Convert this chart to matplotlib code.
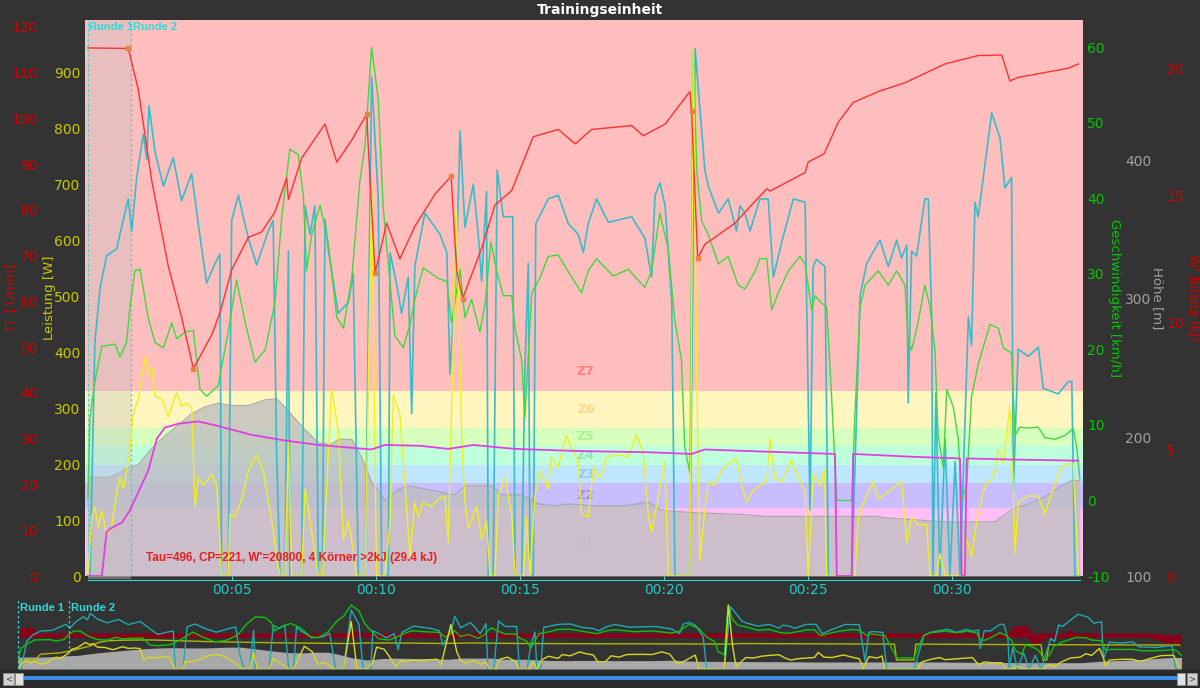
import matplotlib
matplotlib.use("Agg")
import matplotlib.pyplot as plt
from matplotlib.patches import Rectangle
import matplotlib.transforms as mtransforms
from matplotlib.ticker import FuncFormatter

BG = "#333333"

# ---- zones (power, W) ----
zone_names = ["Z1", "Z2", "Z3", "Z4", "Z5", "Z6", "Z7"]
zone_edges = [0, 122, 166, 199, 232, 265, 331, 993]
zone_colors = ["#ffbef5", "#c8beff", "#bee6ff", "#beffdc", "#d7ffbe", "#fff5be", "#ffbebe"]
zone_text_colors = ["#e8b0e0", "#a090f0", "#90c8f0", "#90e8c0", "#a8f090", "#ffd890", "#ff8080"]
zone_label_y = [61, 144, 182, 215, 249, 298, 365]

# ---- laps (minutes) ----
lap_names = ["Runde 1", "Runde 2"]
lap_starts = [0.0, 1.5]

# ---- W' balance (kJ) ----
wbal_t = [0.0, 1.41, 1.76, 2.22, 2.80, 3.26, 3.67, 4.31, 4.59, 5.00, 5.58, 6.04, 6.50, 6.91,
          6.97, 7.43, 8.24, 8.65, 9.17, 9.69, 9.74, 9.98, 10.38, 10.84, 11.36, 12.06, 12.62,
          12.81, 13.02, 13.68, 14.14, 14.72, 15.47, 16.34, 16.93, 17.50, 18.89, 19.29, 20.05,
          20.91, 20.97, 21.18, 21.43, 22.48, 22.82, 23.58, 23.69, 24.91, 25.02, 25.57, 26.06,
          26.58, 27.45, 28.38, 29.77, 30.92, 31.74, 32.02, 32.31, 34.05, 34.40]
wbal_kj = [20.8, 20.78, 19.15, 15.6, 12.2, 10.2, 8.17, 9.5, 10.36, 12.06, 13.34, 13.55, 14.33, 15.68,
           14.83, 16.46, 17.8, 16.3, 17.17, 18.19, 17.0, 11.92, 13.9, 12.49, 13.77, 15.04, 15.75,
           12.06, 10.93, 12.91, 14.61, 15.18, 17.3, 17.59, 17.02, 17.59, 17.74, 17.34, 17.8,
           19.08, 18.3, 12.52, 13.06, 13.9, 14.33, 15.25, 15.16, 15.89, 16.31, 16.63, 17.87,
           18.65, 19.08, 19.43, 20.17, 20.5, 20.52, 19.5, 19.64, 20.0, 20.17]
match_t = [1.41, 3.67, 9.69, 9.98, 12.62, 13.02, 20.97, 21.18]
match_kj = [20.78, 8.17, 18.19, 11.92, 15.75, 10.93, 18.3, 12.52]

# ---- cadence (1/min) ----
cad_t = [0.0, 0.08, 0.25, 0.43, 0.66, 1.01, 1.12, 1.41, 1.53, 1.70, 1.93, 2.05, 2.13, 2.34, 2.63,
         2.97, 3.26, 3.61, 3.90, 4.13, 4.42, 4.59, 4.65, 4.88, 5.00, 5.23, 5.58, 5.87, 6.27, 6.44,
         6.56, 6.68, 6.85, 6.97, 7.02, 7.43, 7.55, 7.72, 7.89, 8.01, 8.15, 8.24, 8.35, 8.70, 9.05,
         9.22, 9.40, 9.63, 9.86, 10.09, 10.21, 10.44, 10.50, 10.73, 10.90, 11.13, 11.25, 11.36,
         11.71, 12.23, 12.47, 12.58, 12.81, 12.93, 13.10, 13.39, 13.56, 13.68, 13.85, 13.91,
         14.08, 14.22, 14.43, 14.76, 14.84, 15.07, 15.18, 15.30, 15.36, 15.47, 15.56, 15.99,
         16.34, 16.69, 17.03, 17.21, 17.38, 17.67, 18.08, 18.89, 19.35, 19.58, 19.70, 19.87,
         20.05, 20.28, 20.39, 20.91, 21.09, 21.43, 21.55, 21.90, 22.24, 22.53, 22.65, 22.82,
         23.00, 23.34, 23.63, 23.81, 24.10, 24.50, 24.91, 25.08, 25.19, 25.31, 25.60, 25.72,
         26.53, 26.82, 27.05, 27.51, 27.80, 28.09, 28.26, 28.44, 28.49, 28.61, 28.78, 29.07,
         29.19, 29.31, 29.35, 29.45, 29.59, 29.77, 29.94, 30.12, 30.29, 30.58, 30.69, 30.81,
         30.92, 31.39, 31.68, 31.85, 32.08, 32.14, 32.31, 32.66, 33.01, 33.18, 33.70, 34.05,
         34.17, 34.28, 34.45]
cad_rpm = [0, 0, 51, 63, 70, 71.5, 74.7, 82.4, 75.4, 87, 96.5, 91, 102.8, 92.6, 85.2,
           91.4, 82, 87.9, 74.2, 64, 68.3, 70.3, 0, 0, 77.7, 83.2, 73.8, 68, 75.4, 77.7,
           27, 0, 0, 71, 0, 0, 80.9, 74.7, 80.9, 0, 0, 78, 71.5, 57.4, 59.8,
           66, 0, 0, 109, 82.4, 0, 0, 70.7, 63.7, 57.4, 65.3, 35.5, 67.7,
           79.3, 74.7, 70.7, 44.1, 68.3, 97.3, 76.2, 85.6, 74.7, 64.4, 84, 0,
           0, 88.7, 78.5, 78.5, 0, 0, 44.9, 68.3, 0, 0, 77, 82.4,
           83.2, 77, 74.7, 70.7, 77, 82.4, 77.3, 78.5, 73.8, 65.3, 83.2, 85.9,
           80.9, 60, 0, 0, 115.3, 88.7, 85.2, 79.3, 82.4, 75.4, 80.9, 79.3,
           75.4, 82.4, 82.4, 65.3, 73, 82.4, 81.7, 14.5, 67.6, 69.2, 67.6, 0,
           0, 61.3, 68.3, 73.4, 67.6, 73.4, 69.5, 72.3, 37.9, 71, 69.9, 82.4,
           82.4, 55.8, 0, 40, 0, 30, 0, 25, 0, 56.6, 50.4, 81.7,
           78.5, 101.2, 95.7, 84.8, 87.1, 18.4, 49.6, 48, 50, 41, 39.8, 42.5,
           42.5, 0, 0]

# ---- speed (km/h) ----
spd_t = [0.01, 0.08, 0.25, 0.49, 0.95, 1.12, 1.35, 1.47, 1.64, 1.82, 2.10, 2.34, 2.63, 2.92, 3.09,
         3.38, 3.67, 3.90, 4.13, 4.53, 4.88, 5.17, 5.46, 5.81, 6.16, 6.50, 6.74, 7.02, 7.31, 7.49,
         7.60, 7.78, 8.07, 8.35, 8.65, 8.88, 9.17, 9.45, 9.63, 9.86, 10.09, 10.26, 10.44, 10.67,
         10.96, 11.19, 11.36, 11.65, 12.17, 12.47, 12.64, 12.93, 13.10, 13.33, 13.62, 13.80,
         14.00, 14.20, 14.43, 14.72, 14.84, 15.07, 15.18, 15.42, 15.70, 15.99, 16.34, 16.75,
         17.15, 17.38, 17.67, 18.25, 18.77, 19.35, 19.58, 19.87, 20.16, 20.39, 20.62, 20.73,
         20.91, 21.02, 21.15, 21.32, 21.55, 21.90, 22.24, 22.59, 22.82, 23.18, 23.34, 23.58,
         23.75, 23.98, 24.33, 24.73, 24.91, 25.14, 25.25, 25.49, 25.66, 25.83, 26.01, 26.53,
         26.64, 26.82, 26.99, 27.45, 27.80, 28.09, 28.38, 28.49, 28.61, 28.84, 29.07, 29.25,
         29.42, 29.53, 29.71, 29.83, 30.06, 30.23, 30.35, 30.52, 30.69, 30.92, 31.33, 31.62,
         31.79, 32.08, 32.20, 32.37, 32.66, 33.01, 33.24, 33.59, 33.93, 34.22, 34.34, 34.45]
spd_kmh = [0.3, 11.0, 15.7, 20.4, 20.7, 19.0, 20.9, 25.6, 30.4, 30.6, 24.2, 20.9, 20.2, 23.5, 21.4,
           22.3, 22.5, 14.7, 13.8, 15.2, 22.3, 29.2, 23.7, 18.3, 19.9, 26.1, 37.5, 46.5, 45.8, 40.3,
           30.4, 35.2, 39.1, 34.2, 24.2, 22.8, 29.4, 42.2, 47.0, 60.0, 53.1, 38.9, 31.3, 21.8,
           20.2, 23.3, 26.6, 30.8, 29.4, 29.0, 23.5, 30.6, 24.2, 26.6, 22.3, 26.1,
           34.2, 30.4, 27.1, 27.1, 22.8, 18.6, 11.0, 27.5, 29.4, 32.3, 32.5, 29.9,
           27.5, 30.4, 32.0, 29.7, 30.6, 28.2, 30.4, 38.0, 33.2, 23.7, 18.6, 7.1,
           3.6, 59.6, 43.7, 37.0, 35.2, 31.3, 32.3, 28.5, 28.0, 30.4, 32.0, 32.0,
           25.2, 27.5, 30.4, 32.3, 31.3, 25.2, 27.1, 26.1, 25.6, 13.8, 0, 0,
           11.4, 25.6, 28.5, 30.4, 28.5, 30.4, 28.5, 20.9, 19.9, 23.7, 28.5, 25.6,
           19.9, 8.6, 4.3, 14.7, 12.3, 8.1, 0, 2.0, 13.8, 18.0, 23.3, 22.8,
           20.2, 19.5, 8.6, 9.7, 9.6, 9.7, 8.3, 8.1, 8.6, 9.5, 7.1, 2.9]

# ---- power (W) ----
pwr_t = [0.01, 0.14, 0.25, 0.37, 0.49, 0.66, 0.83, 1.01, 1.12, 1.24, 1.35, 1.47, 1.58, 1.76, 1.99,
         2.10, 2.22, 2.34, 2.57, 2.80, 3.09, 3.26, 3.44, 3.61, 3.73, 3.84, 4.01, 4.31, 4.48, 4.65,
         4.88, 4.94, 5.11, 5.35, 5.58, 5.87, 6.10, 6.39, 6.56, 6.68, 6.85, 6.97, 7.08, 7.43, 7.55,
         7.78, 8.01, 8.15, 8.47, 8.70, 8.88, 9.05, 9.22, 9.34, 9.63, 9.86, 10.03, 10.32, 10.50,
         10.61, 10.84, 11.02, 11.19, 11.36, 11.48, 11.65, 11.94, 12.17, 12.41, 12.52, 12.81,
         12.99, 13.10, 13.22, 13.51, 13.68, 13.85, 13.97, 14.14, 14.26, 14.49, 14.72, 14.84,
         15.13, 15.24, 15.36, 15.53, 15.70, 15.99, 16.11, 16.34, 16.63, 16.81, 17.03, 17.15,
         17.38, 17.56, 17.79, 18.02, 18.42, 18.77, 19.06, 19.29, 19.47, 19.58, 19.87, 20.05,
         20.16, 20.91, 21.03, 21.15, 21.26, 21.43, 21.55, 21.78, 22.01, 22.24, 22.53, 22.71,
         22.88, 23.06, 23.34, 23.58, 23.69, 23.86, 24.10, 24.44, 24.73, 24.91, 25.02, 25.19,
         25.43, 25.58, 25.66, 26.64, 26.76, 26.99, 27.28, 27.45, 27.80, 28.26, 28.44, 28.61,
         28.84, 29.13, 29.25, 29.48, 29.59, 29.77, 30.35, 30.52, 30.69, 30.87, 31.16, 31.45,
         31.62, 31.79, 32.02, 32.14, 32.20, 32.31, 32.66, 33.01, 33.24, 33.53, 33.82, 33.99,
         34.22, 34.40]
pwr_w = [0, 105, 124, 86, 117, 73, 86, 150, 175, 156, 188, 226, 290, 316, 392,
         360, 373, 322, 316, 284, 328, 303, 309, 300, 124, 175, 162, 181, 162, 0,
         0, 111, 105, 137, 188, 216, 188, 98, 35, 0, 0, 239, 0, 0, 156,
         79, 0, 0, 335, 258, 66, 98, 47, 0, 0, 700, 0, 0, 98,
         322, 290, 162, 35, 131, 105, 131, 124, 137, 143, 60, 654,
         245, 131, 86, 124, 66, 98, 0, 0, 143, 175, 111, 0,
         0, 105, 0, 143, 188, 156, 213, 194, 252, 226, 207, 111,
         105, 194, 175, 213, 216, 213, 252, 220, 105, 79, 156, 204,
         0, 0, 942, 354, 27, 117, 169, 162, 188, 200, 210, 162,
         131, 150, 162, 169, 245, 175, 169, 207, 169, 150, 0, 181,
         162, 191, 0, 0, 105, 137, 169, 137, 150, 169, 60, 105,
         92, 92, 0, 0, 40, 0, 0, 66, 35, 98, 162, 175,
         226, 200, 303, 162, 41, 131, 143, 143, 111, 156, 194, 200,
         200, 0]

# ---- magenta power curve (W) ----
mag_t = [0.0, 0.49, 0.66, 0.83, 1.18, 1.47, 1.76, 2.10, 2.40, 2.68, 3.15, 3.84, 4.53, 5.69, 6.85,
         8.01, 9.17, 9.86, 10.32, 11.54, 12.52, 13.39, 14.84, 17.15, 19.47, 20.97, 21.43, 23.0,
         25.95, 26.01, 26.53, 26.58, 28.61, 30.29, 30.35, 30.46, 30.52, 32.08, 34.40]
mag_w = [0, 0, 79, 86, 95, 117.5, 150, 188, 245, 265, 272, 276, 268, 252, 242,
         234, 229, 226, 234, 232.6, 227, 234, 227, 223, 221, 218, 226, 223,
         218, 0, 0, 218, 213, 210, 0, 0, 210, 208, 206]

# ---- altitude (m) ----
alt_t = [0.0, 0.72, 1.06, 1.41, 1.76, 2.22, 2.68, 3.15, 3.61, 4.07, 4.53, 5.00, 5.58, 6.16, 6.56,
         6.97, 7.43, 8.01, 8.47, 8.70, 9.17, 9.51, 9.86, 10.32, 10.78, 11.13, 12.75, 13.10, 14.03,
         14.38, 15.07, 15.65, 16.23, 16.69, 17.61, 18.66, 19.47, 19.87, 20.16, 21.15, 22.82,
         23.52, 27.45, 27.68, 29.77, 31.50, 32.08, 32.66, 33.24, 33.82, 34.17, 34.45]
alt_m = [171.4, 171, 174, 178, 180.5, 192, 201, 209, 217, 222, 224.6, 223, 223, 227, 228,
         219, 208, 196, 195, 198.6, 198.6, 185.7, 167.6, 154.6, 162.4, 165, 158.6, 165, 165,
         158.6, 158.6, 152, 150.7, 152, 150.7, 150.7, 153.3, 148, 146.9, 145.6, 144.3,
         143, 143, 142, 139, 139, 148, 152, 157, 165, 168.8, 168.8]

# ---- overview dark red band (relative height) ----
band_t = [0.0, 0.1, 0.4, 0.6, 9.6, 9.9, 10.2, 29.3, 29.5, 29.9, 30.0, 30.2, 30.5, 31.0, 31.1,
          31.3, 33.5, 34.0, 34.45]
band_lo = [0.44, 0.44, 0.44, 0.44, 0.44, 0.44, 0.44, 0.44, 0.44, 0.44, 0.36, 0.36, 0.44, 0.44,
           0.44, 0.44, 0.44, 0.36, 0.36]
band_hi = [0.50, 0.58, 0.58, 0.50, 0.50, 0.53, 0.50, 0.50, 0.60, 0.60, 0.50, 0.50, 0.50, 0.50,
           0.55, 0.50, 0.50, 0.48, 0.48]

C_TF = "#d40000"
C_PW = "#c8c800"
C_SPD = "#00c800"
C_ALT = "#a0a0a0"
C_WB = "#d00000"
C_LAP = "#30d8d8"

plt.rcParams["font.family"] = ["DejaVu Sans"]
plt.rcParams["axes.unicode_minus"] = False
fig = plt.figure(figsize=(12, 6.88), dpi=100, facecolor=BG)

W, H = 1200.0, 688.0
PT = 72.0 / 100.0  # pixels -> points
x0, x1, y_top, y_bot = 84.5, 1083.0, 20.0, 576.0
ax = fig.add_axes([x0 / W, 1 - y_bot / H, (x1 - x0) / W, (y_bot - y_top) / H])
ax.set_facecolor("white")
ax.set_xlim(-0.11, 34.56)
ax.set_ylim(0, 993)

# zones
for lo, hi, c in zip(zone_edges[:-1], zone_edges[1:], zone_colors):
    ax.axhspan(lo, hi, color=c, lw=0, zorder=0)
for name, yv, c in zip(zone_names, zone_label_y, zone_text_colors):
    ax.text(17.3, yv, name, color=c, fontsize=9, fontweight="bold", ha="center", va="center", zorder=1)

# altitude
ax_alt = ax.twinx()
ax_alt.set_ylim(100, 501)
ax_alt.fill_between(alt_t, 100, alt_m, color="#bebebe", alpha=0.78, lw=0)
ax_alt.plot(alt_t, alt_m, color="#a8a8a8", lw=0.8)

# lap shading / markers
ax_lap = ax.twinx()
ax_lap.set_ylim(0, 1)
ax_lap.axvspan(lap_starts[0], lap_starts[1], color="#c0c0c0", alpha=0.35, lw=0)
for ls, name in zip(lap_starts, lap_names):
    ax_lap.axvline(ls + 0.02, color=C_LAP, lw=0.9, ls=(0, (2, 2)))
    ax_lap.text(ls + 0.06, 0.988, name, color=C_LAP, fontsize=8, fontweight="bold", va="center",
                ha="left", family="Liberation Sans")
ax_lap.set_yticks([])

# cadence
ax_tf = ax.twinx()
ax_tf.set_ylim(0, 121.5)
ax_tf.plot(cad_t, cad_rpm, color="#38bccb", lw=1.2)

# speed
ax_spd = ax.twinx()
ax_spd.set_ylim(-10, 63.6)
ax_spd.plot(spd_t, spd_kmh, color="#40d840", lw=1.0)

# power + magenta curve
ax_pw = ax.twinx()
ax_pw.set_ylim(0, 993)
ax_pw.plot(pwr_t, pwr_w, color="#f0f020", lw=1.0)
ax_pw.plot(mag_t, mag_w, color="#e040e0", lw=1.3)
ax_pw.text(2.03, 32, "Tau=496, CP=221, W'=20800, 4 K\u00f6rner >2kJ (29.4 kJ)", color="#e82020",
           fontsize=8.5, fontweight="bold", ha="left", va="center", family="Liberation Sans")
ax_pw.set_yticks([])

# W' balance
ax_wb = ax.twinx()
ax_wb.set_ylim(0, 21.9)
ax_wb.plot(wbal_t, wbal_kj, color="#ff3030", lw=1.0)
ax_wb.plot(match_t, match_kj, ls="none", marker="s", ms=3.5, color="#e8843c")

# ---- axes cosmetics ----
for a in [ax, ax_alt, ax_lap, ax_tf, ax_spd, ax_pw, ax_wb]:
    for s in a.spines.values():
        s.set_visible(False)
    a.tick_params(axis="y", length=0, labelsize=10)

ax.spines["bottom"].set_visible(True)
ax.spines["bottom"].set_color(C_LAP)
ax.spines["bottom"].set_position(("outward", 4 * PT))
ax.spines["bottom"].set_bounds(0, 34.45)
ax.set_xticks([5, 10, 15, 20, 25, 30])
ax.xaxis.set_major_formatter(FuncFormatter(lambda v, p: "00:%02d" % int(round(v))))
ax.tick_params(axis="x", colors=C_LAP, labelcolor="#20c8c8", direction="in", length=3, pad=2, labelsize=10)

ax.set_yticks(range(0, 1000, 100))
ax.tick_params(axis="y", labelcolor=C_PW, pad=4 * PT)

ax_tf.yaxis.set_ticks_position("left")
ax_tf.spines["left"].set_position(("outward", 43.5 * PT))
ax_tf.set_yticks(range(0, 121, 10))
ax_tf.tick_params(axis="y", labelcolor=C_TF, pad=3 * PT)

ax_spd.set_yticks(range(-10, 61, 10))
ax_spd.tick_params(axis="y", labelcolor=C_SPD, pad=4 * PT)

ax_alt.spines["right"].set_position(("outward", 38 * PT))
ax_alt.set_yticks([100, 200, 300, 400])
ax_alt.tick_params(axis="y", labelcolor=C_ALT, pad=4 * PT)

ax_wb.spines["right"].set_position(("outward", 79 * PT))
ax_wb.set_yticks([0, 5, 10, 15, 20])
ax_wb.tick_params(axis="y", labelcolor=C_WB, pad=4 * PT)

ax_lap.tick_params(axis="y", right=False, labelright=False)

# small gray strip under lap 1
trans = mtransforms.blended_transform_factory(ax.transData, ax.transAxes)
ax.add_patch(Rectangle((0, -0.006), 1.5, 0.006, transform=trans, color="#707070", clip_on=False, lw=0))

# axis labels
fig.text(11 / W, 1 - 298 / H, "TF [1/min]", rotation=90, ha="center", va="center", color=C_TF, fontsize=9.5)
fig.text(50 / W, 1 - 298 / H, "Leistung [W]", rotation=90, ha="center", va="center", color=C_PW, fontsize=9.5)
fig.text(1114 / W, 1 - 298 / H, "Geschwindigkeit [km/h]", rotation=270, ha="center", va="center", color=C_SPD, fontsize=9.5)
fig.text(1157 / W, 1 - 298 / H, "H\u00f6he [m]", rotation=270, ha="center", va="center", color=C_ALT, fontsize=9.5)
fig.text(1192 / W, 1 - 298 / H, "W' Bilanz (kJ)", rotation=270, ha="center", va="center", color=C_WB, fontsize=9.5)

fig.text(0.5, 1 - 10 / H, "Trainingseinheit", ha="center", va="center", color="white", fontsize=10, fontweight="bold")

# ---- overview panel ----
ov_x0, ov_x1, ov_top, ov_bot = 18.3, 1181.5, 597.0, 669.0
ov = fig.add_axes([ov_x0 / W, 1 - ov_bot / H, (ov_x1 - ov_x0) / W, (ov_bot - ov_top) / H])
ov.set_facecolor(BG)
ov.set_xlim(0, 34.45)
ov.set_ylim(0, 1)
ov.axis("off")

ov_alt = ov.twinx()
ov_alt.set_ylim(103, 513)
ov_alt.fill_between(alt_t, 103, alt_m, color="#a8a8a8", lw=0)

ov_band = ov.twinx()
ov_band.set_ylim(0, 1)
ov_band.fill_between(band_t, band_lo, band_hi, color="#8a0018", lw=0)

ov_mag = ov.twinx()
ov_mag.set_ylim(-124, 866)
ov_mag.plot(mag_t, mag_w, color="#b4b400", lw=1.0)

ov_cad = ov.twinx()
ov_cad.set_ylim(0, 133)
ov_cad.plot(cad_t, cad_rpm, color="#20a8b0", lw=1.0)

ov_spd = ov.twinx()
ov_spd.set_ylim(-12.5, 69)
ov_spd.plot(spd_t, spd_kmh, color="#10c010", lw=1.0)

ov_pw = ov.twinx()
ov_pw.set_ylim(0, 1060)
ov_pw.plot(pwr_t, pwr_w, color="#d8d820", lw=1.0)
for ls, name in zip(lap_starts, lap_names):
    ov_pw.axvline(ls, color=C_LAP, lw=0.9, ls=(0, (2, 2)), ymin=-0.05, ymax=0.96, clip_on=False)
    ov_pw.text(ls + 0.06, 900, name, color=C_LAP, fontsize=8, fontweight="bold", va="center",
               ha="left", family="Liberation Sans")

for a in [ov_alt, ov_band, ov_mag, ov_cad, ov_spd, ov_pw]:
    a.axis("off")

# scrollbar
def fig_rect(x, y, w, h, color, ec="none"):
    fig.add_artist(Rectangle((x / W, 1 - (y + h) / H), w / W, h / H, transform=fig.transFigure,
                             facecolor=color, edgecolor=ec, lw=0.6))

fig_rect(0, 670, 1200, 18, "#2a2a2a")
fig_rect(22, 676, 1156, 4, "#3a8ee6")
fig_rect(3, 673, 11, 12, "#d0d0d0", "#909090")
fig_rect(15, 673, 8, 12, "#e0e0e0", "#909090")
fig_rect(1177, 673, 8, 12, "#e0e0e0", "#909090")
fig_rect(1187, 673, 10, 12, "#d0d0d0", "#909090")
fig.text(8.5 / W, 1 - 679 / H, "<", ha="center", va="center", fontsize=6, color="#404040")
fig.text(1192 / W, 1 - 679 / H, ">", ha="center", va="center", fontsize=6, color="#404040")

fig.savefig("out.png", dpi=100, facecolor=BG)
